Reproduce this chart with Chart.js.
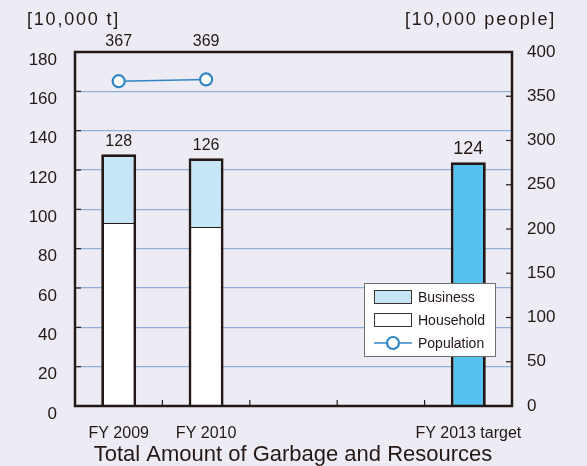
<!DOCTYPE html>
<html>
<head>
<meta charset="utf-8">
<script src="https://cdn.jsdelivr.net/npm/chart.js@4.4.1/dist/chart.umd.min.js"></script>
<style>
    html, body { margin: 0; padding: 0; background: #edecf5; }
    #wrap { width: 587px; height: 466px; }
</style>
</head>
<body>
<div id="wrap"><canvas id="chart" width="587" height="466"></canvas></div>
<script>
const categories = ['FY 2009', 'FY 2010', '', '', 'FY 2013 target'];
const household = [93, 91, null, null, null];
const business = [35, 35, null, null, null];
const target = [null, null, null, null, 124];
const totals = [128, 126, null, null, 124];
const population = [367, 369, null, null, null];
const leftTicks = [0, 180, 20];
const rightTicks = [0, 400, 50];

const INK = '#231815';
const GRID = '#8eb0d6';
const POP = '#2f86c4';
const FONT = '"Liberation Sans", Arial, sans-serif';

const overlay = {
    id: 'overlay',
    afterDatasetsDraw(chart) {
        const { ctx, chartArea: a, scales } = chart;
        ctx.save();
        // tick marks inside the frame
        ctx.strokeStyle = INK;
        ctx.lineWidth = 1.2;
        scales.y.ticks.forEach((t) => {
            const y = scales.y.getPixelForValue(t.value);
            ctx.beginPath(); ctx.moveTo(a.left, y); ctx.lineTo(a.left + 6, y); ctx.stroke();
        });
        scales.y2.ticks.forEach((t) => {
            const y = scales.y2.getPixelForValue(t.value);
            ctx.beginPath(); ctx.moveTo(a.right - 6, y); ctx.lineTo(a.right, y); ctx.stroke();
        });
        for (let i = 1; i < categories.length; i++) {
            const x = (scales.x.getPixelForTick(i - 1) + scales.x.getPixelForTick(i)) / 2;
            ctx.beginPath(); ctx.moveTo(x, a.bottom); ctx.lineTo(x, a.bottom - 6); ctx.stroke();
        }
        // frame
        ctx.lineWidth = 2.5;
        ctx.strokeRect(a.left, a.top, a.right - a.left, a.bottom - a.top);

        // values
        ctx.fillStyle = INK;
        ctx.textAlign = 'center';
        ctx.textBaseline = 'middle';
        totals.forEach((v, i) => {
            if (v == null) return;
            ctx.font = (i === 4 ? '18px ' : '16px ') + FONT;
            const x = scales.x.getPixelForValue(i);
            ctx.fillText(String(v), x, scales.y.getPixelForValue(v) - 13);
        });
        ctx.font = '16px ' + FONT;
        population.forEach((v, i) => {
            if (v == null) return;
            ctx.fillText(String(v), scales.x.getPixelForValue(i), a.top - 10);
        });

        // unit labels
        ctx.font = '18px ' + FONT;
        ctx.letterSpacing = '1.8px';
        ctx.textAlign = 'left';
        ctx.fillText('[10,000 t]', 27, 20);
        ctx.textAlign = 'right';
        ctx.fillText('[10,000 people]', 556, 20);
        ctx.letterSpacing = '0px';

        // title
        ctx.textAlign = 'center';
        ctx.font = '22px ' + FONT;
        ctx.fillText('Total Amount of Garbage and Resources', 293, 455);

        // legend
        const lx = 364, ly = 283, lw = 131, lh = 73;
        ctx.fillStyle = '#ffffff';
        ctx.fillRect(lx, ly, lw, lh);
        ctx.strokeStyle = '#6f6f6f';
        ctx.lineWidth = 1;
        ctx.strokeRect(lx + 0.5, ly + 0.5, lw, lh);
        const items = [
            { label: 'Business', fill: '#c6e6f8' },
            { label: 'Household', fill: '#ffffff' },
            { label: 'Population', line: true },
        ];
        ctx.font = '14px ' + FONT;
        ctx.textAlign = 'left';
        items.forEach((it, k) => {
            const cy = ly + 14 + k * 23;
            if (it.line) {
                ctx.strokeStyle = POP;
                ctx.lineWidth = 1.5;
                ctx.beginPath(); ctx.moveTo(lx + 10, cy); ctx.lineTo(lx + 48, cy); ctx.stroke();
                ctx.fillStyle = '#ffffff';
                ctx.lineWidth = 2.2;
                ctx.beginPath(); ctx.arc(lx + 29, cy, 6, 0, Math.PI * 2); ctx.fill(); ctx.stroke();
            } else {
                ctx.fillStyle = it.fill;
                ctx.fillRect(lx + 10, cy - 7, 38, 14);
                ctx.strokeStyle = '#3a3330';
                ctx.lineWidth = 1;
                ctx.strokeRect(lx + 10.5, cy - 6.5, 37, 13);
            }
            ctx.fillStyle = INK;
            ctx.fillText(it.label, lx + 54, cy + 1);
        });
        ctx.restore();
    },
};

new Chart(document.getElementById('chart'), {
    type: 'bar',
    data: {
        labels: categories,
        datasets: [
            {
                type: 'line', label: 'Population', data: population, yAxisID: 'y2',
                borderColor: POP, borderWidth: 1.5, backgroundColor: '#ffffff',
                pointRadius: 6, pointBorderWidth: 2.2, pointBorderColor: POP, pointBackgroundColor: '#ffffff',
                spanGaps: false,
            },
            {
                label: 'Household', data: household, backgroundColor: '#ffffff', borderColor: INK,
                borderWidth: { top: 1, left: 2.8, right: 2.8, bottom: 0 }, borderSkipped: false,
            },
            {
                label: 'Business', data: business, backgroundColor: '#c6e6f8', borderColor: INK,
                borderWidth: { top: 2.8, left: 2.8, right: 2.8, bottom: 0 }, borderSkipped: false,
            },
            {
                label: 'Target', data: target, backgroundColor: '#56c2ef', borderColor: INK,
                borderWidth: { top: 2.8, left: 2.8, right: 2.8, bottom: 0 }, borderSkipped: false,
            },
        ],
    },
    options: {
        responsive: false,
        animation: false,
        devicePixelRatio: 1,
        categoryPercentage: 0.8,
        barPercentage: 0.5,
        layout: { padding: { top: 52, left: 0, right: 0, bottom: 0 } },
        plugins: { legend: { display: false }, tooltip: { enabled: false }, title: { display: false } },
        scales: {
            x: {
                stacked: true,
                grid: { display: false },
                border: { display: false },
                ticks: { color: INK, font: { family: FONT, size: 16 }, padding: 10, maxRotation: 0, autoSkip: false },
                afterFit(s) { s.height = 60; },
            },
            y: {
                stacked: true,
                min: leftTicks[0], max: leftTicks[1],
                grid: { color: GRID, lineWidth: 1.2, drawTicks: false },
                border: { display: false },
                ticks: { stepSize: leftTicks[2], color: INK, font: { family: FONT, size: 17 }, padding: 18, labelOffset: 8 },
                afterFit(s) { s.width = 75; },
            },
            y2: {
                position: 'right',
                min: rightTicks[0], max: rightTicks[1],
                grid: { drawOnChartArea: false, drawTicks: false },
                border: { display: false },
                ticks: { stepSize: rightTicks[2], color: INK, font: { family: FONT, size: 17 }, padding: 15 },
                afterFit(s) { s.width = 75; },
            },
        },
    },
    plugins: [overlay],
});
</script>
</body>
</html>
